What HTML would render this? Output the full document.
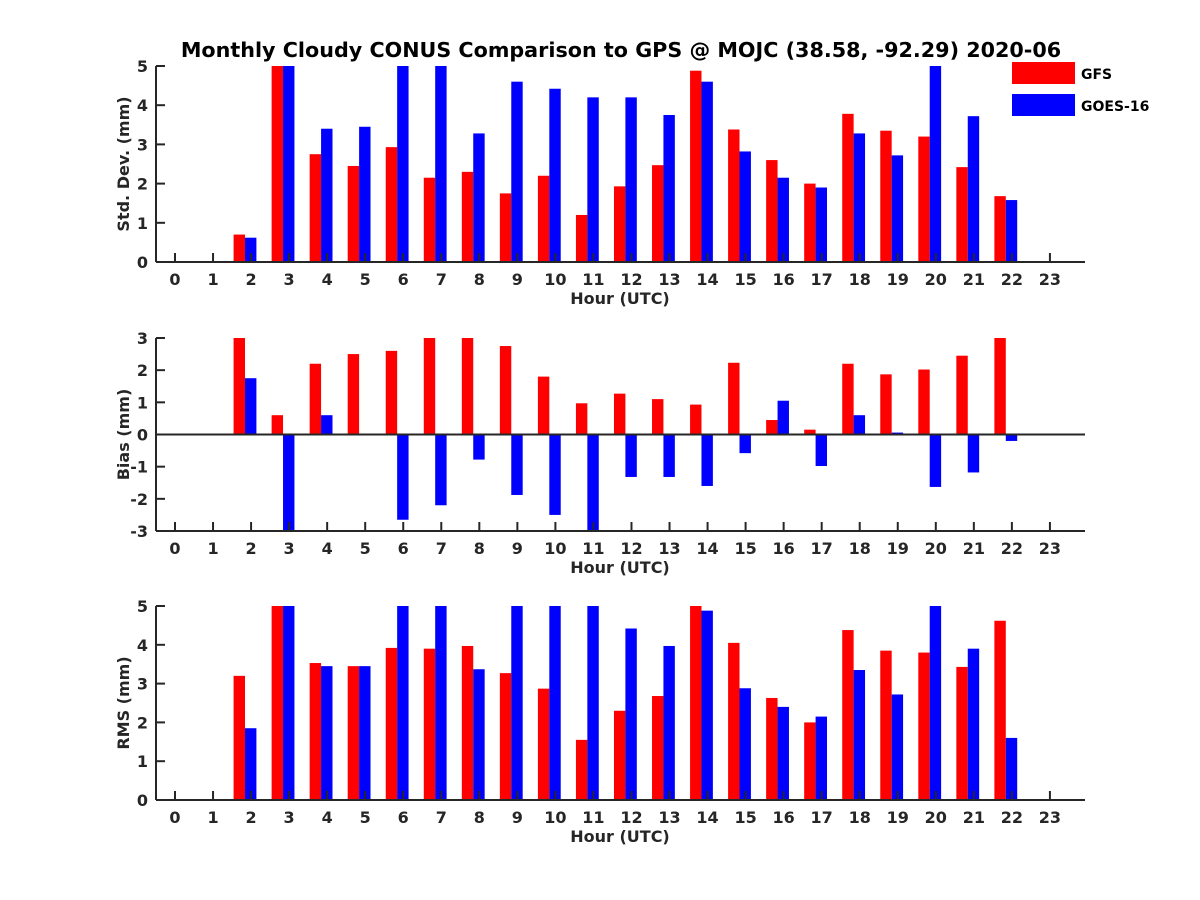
<!DOCTYPE html>
<html><head><meta charset="utf-8"><style>
html,body{margin:0;padding:0;background:#fff;}
svg{display:block;font-family:"DejaVu Sans","Liberation Sans",sans-serif;font-weight:bold;}
</style></head><body>
<svg id="c" width="1200" height="900" viewBox="0 0 1200 900">
<text x="621" y="57" font-size="20.7" text-anchor="middle" fill="#000">Monthly Cloudy CONUS Comparison to GPS @ MOJC (38.58, -92.29) 2020-06</text>
<g>
<rect x="1012" y="62" width="63" height="22" fill="#ff0000"/>
<text x="1081" y="79" font-size="14" fill="#000">GFS</text>
<rect x="1012" y="94" width="63" height="22" fill="#0000ff"/>
<text x="1081" y="111" font-size="14" fill="#000">GOES-16</text>
</g>
</svg>
<script>
const hours=[0,1,2,3,4,5,6,7,8,9,10,11,12,13,14,15,16,17,18,19,20,21,22,23];
const stdGFS=[null,null,0.7,5,2.75,2.45,2.93,2.15,2.3,1.75,2.2,1.2,1.93,2.47,4.88,3.38,2.6,2.0,3.78,3.35,3.2,2.42,1.68,null];
const stdGOES=[null,null,0.62,5,3.4,3.45,5,5,3.28,4.6,4.42,4.2,4.2,3.75,4.6,2.82,2.15,1.9,3.28,2.72,5,3.72,1.58,null];
const biasGFS=[null,null,3,0.6,2.2,2.5,2.6,3,3,2.75,1.8,0.97,1.27,1.1,0.93,2.23,0.45,0.15,2.2,1.87,2.02,2.45,3,null];
const biasGOES=[null,null,1.75,-3,0.6,0,-2.65,-2.2,-0.78,-1.88,-2.5,-3,-1.32,-1.32,-1.6,-0.58,1.05,-0.98,0.6,0.06,-1.63,-1.18,-0.2,null];
const rmsGFS=[null,null,3.2,5,3.53,3.45,3.92,3.9,3.97,3.27,2.87,1.55,2.3,2.68,5,4.05,2.63,2.0,4.38,3.85,3.8,3.43,4.62,null];
const rmsGOES=[null,null,1.85,5,3.45,3.45,5,5,3.37,5,5,5,4.42,3.97,4.88,2.88,2.4,2.15,3.35,2.72,5,3.9,1.6,null];
const stdTicks=[0,1,2,3,4,5];
const biasTicks=[-3,-2,-1,0,1,2,3];
const rmsTicks=[0,1,2,3,4,5];

const svg=document.getElementById('c');
const NS='http://www.w3.org/2000/svg';
function mk(tag,attrs,parent){const e=document.createElementNS(NS,tag);for(const k in attrs)e.setAttribute(k,attrs[k]);(parent||svg).appendChild(e);return e;}
const X0=156,X1=1085;
function xs(h){return 175+(h)*38.04;}
const panels=[
 {name:'std-dev',label:'Std. Dev. (mm)',top:66,bot:262,min:0,max:5,ticks:stdTicks,a:stdGFS,b:stdGOES},
 {name:'bias',label:'Bias (mm)',top:338,bot:531,min:-3,max:3,ticks:biasTicks,a:biasGFS,b:biasGOES},
 {name:'rms',label:'RMS (mm)',top:606,bot:800,min:0,max:5,ticks:rmsTicks,a:rmsGFS,b:rmsGOES}
];
panels.forEach(p=>{
 const g=mk('g',{});
 
 
 const ys=v=>p.bot-(v-p.min)/(p.max-p.min)*(p.bot-p.top);
 const bw=0.3*38.04;
 const clip=v=>Math.max(p.min,Math.min(p.max,v));
 [[p.a,'#ff0000',-0.46,'gfs'],[p.b,'#0000ff',-0.16,'goes']].forEach(([arr,col,off,nm])=>{
  arr.forEach((v,i)=>{
   if(v===null)return;
   const base=p.min<0?0:p.min;
   const y1=ys(clip(v)),y0=ys(base);
   const r=mk('rect',{x:xs(hours[i]+off),y:Math.min(y0,y1),width:bw,height:Math.abs(y0-y1),fill:col},g);
   
   
  });
 });
 const zeroY=p.min<0?ys(0):p.bot;
 if(p.min<0){const z=mk('line',{x1:X0,x2:X1,y1:zeroY,y2:zeroY,stroke:'#262626','stroke-width':2},g);
  }
 const ax=mk('line',{x1:X0,x2:X1,y1:p.bot,y2:p.bot,stroke:'#262626','stroke-width':2},g);
 
 const ay=mk('line',{x1:X0,x2:X0,y1:p.top,y2:p.bot,stroke:'#262626','stroke-width':2},g);
 
 hours.forEach(h=>{
  mk('line',{x1:xs(h),x2:xs(h),y1:p.bot,y2:p.bot-9,stroke:'#262626','stroke-width':2},g);
  const t=mk('text',{x:xs(h),y:p.bot+23,'font-size':16,'text-anchor':'middle',fill:'#262626'},g);
  t.textContent=h;
  
  
 });
 p.ticks.forEach(v=>{
  mk('line',{x1:X0,x2:X0+9,y1:ys(v),y2:ys(v),stroke:'#262626','stroke-width':2},g);
  const t=mk('text',{x:X0-8,y:ys(v)+6,'font-size':16,'text-anchor':'end',fill:'#262626'},g);
  t.textContent=v;
  
  
 });
 const xl=mk('text',{x:620,y:p.bot+42,'font-size':16,'text-anchor':'middle',fill:'#262626'},g);
 xl.textContent='Hour (UTC)';
 
 
 const cy=(p.top+p.bot)/2;
 const yl=mk('text',{x:129,y:cy,'font-size':16,'text-anchor':'middle',fill:'#262626',transform:'rotate(-90 129 '+cy+')'},g);
 yl.textContent=p.label;
 
 
});
</script>
</body></html>
